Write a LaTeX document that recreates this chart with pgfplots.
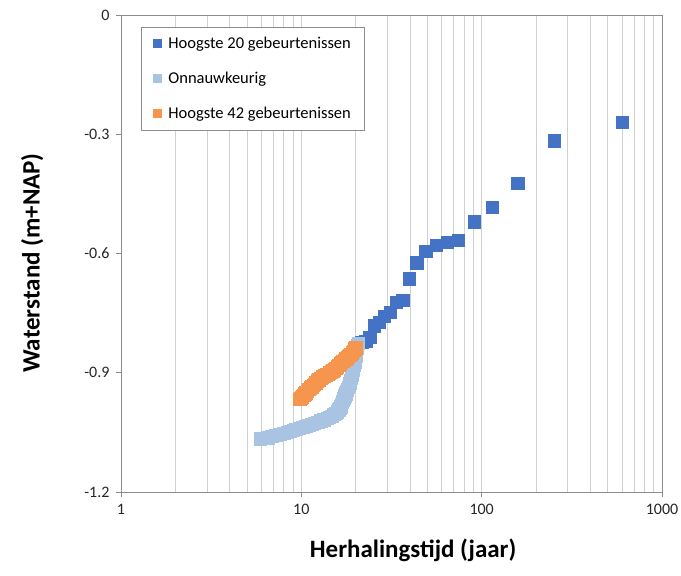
\documentclass[border=0pt]{standalone}
\usepackage{pgfplots}
\pgfplotsset{compat=1.18}
\usepackage{fontspec}
\setmainfont{Carlito}
\definecolor{cblue}{HTML}{4472C4}
\definecolor{clight}{HTML}{A9C4E2}
\definecolor{corange}{HTML}{F5954E}
\definecolor{gridc}{HTML}{D0D0D0}
\definecolor{axc}{HTML}{8C8C8C}
\begin{document}
\begin{tikzpicture}
\path[use as bounding box] (0,0) rectangle (681pt,576pt);
\begin{axis}[
  at={(121pt,84pt)}, anchor=south west,
  scale only axis, width=541pt, height=477pt,
  xmode=log, xmin=1, xmax=1000, ymin=-1.2, ymax=0,
  log basis x=10,
  xtick={1,10,100,1000}, xticklabels={1,10,100,1000},
  minor xtick={2,3,4,5,6,7,8,9,20,30,40,50,60,70,80,90,200,300,400,500,600,700,800,900},
  ytick={-1.2,-0.9,-0.6,-0.3,0}, yticklabels={-1.2,-0.9,-0.6,-0.3,0},
  xmajorgrids, xminorgrids,
  major grid style={gridc, line width=0.8pt},
  minor grid style={gridc, line width=0.8pt},
  axis line style={axc, line width=0.8pt},
  tick style={axc, line width=0.8pt},
  tick align=outside, major tick length=5pt, minor tick length=0pt,
  xtick pos=bottom, ytick pos=left,
  /pgf/number format/assume math mode=true,
  tick label style={font=\fontsize{16}{19}\selectfont, text=black!85},
  xticklabel style={yshift=-4pt},
  yticklabel style={xshift=-3pt},
  xlabel={Herhalingstijd (jaar)},
  ylabel={Waterstand (m+NAP)},
  label style={font=\fontsize{25}{29}\selectfont\bfseries},
  xlabel style={at={(axis description cs:0.54,-0.1216)}, anchor=center},
  ylabel style={at={(axis description cs:-0.164,0.48)}, anchor=center},
  legend style={at={(axis description cs:0.037,0.9755)}, anchor=north west,
    draw=axc, line width=0.8pt, fill=white,
    font=\fontsize{16.5}{19}\selectfont, inner xsep=12pt, inner ysep=8pt,
    row sep=18pt, /tikz/every odd column/.append style={column sep=5pt}},
  legend cell align=left,
  legend image post style={mark size=4pt},
]
\addplot[only marks, mark=square*, mark size=6.2pt, mark options={fill=cblue, draw=cblue}]
coordinates {
(600,-0.269) (252,-0.316) (158.6,-0.423) (114.5,-0.484) (90.7,-0.520)
(73.9,-0.567) (64.3,-0.572) (56.1,-0.579) (48.9,-0.594) (43.7,-0.623)
(39.8,-0.663) (36.4,-0.717) (33.5,-0.722) (31.0,-0.748) (28.9,-0.757)
(27.1,-0.773) (25.4,-0.782) (24.0,-0.810) (22.7,-0.820) (21.6,-0.823)
};
\addlegendentry{Hoogste 20 gebeurtenissen}
\addplot[only marks, mark=square*, mark size=6.2pt, mark options={fill=clight, draw=clight}]
coordinates {
(5.9,-1.066) (6.2,-1.065) (6.5,-1.063) (6.85,-1.060) (7.2,-1.057) (7.6,-1.055)
(8.0,-1.052) (8.35,-1.049) (8.7,-1.047) (9.0,-1.045) (9.3,-1.042) (9.75,-1.040)
(10.2,-1.037) (10.6,-1.035) (11.0,-1.032) (11.4,-1.030) (11.75,-1.027) (12.3,-1.024)
(12.8,-1.021) (13.3,-1.018) (13.9,-1.015) (14.3,-1.012) (14.7,-1.009) (15.1,-1.005)
(15.5,-1.002) (15.8,-0.998) (16.1,-0.993) (16.3,-0.989) (16.5,-0.985) (16.7,-0.979)
(16.9,-0.973) (17.05,-0.968) (17.2,-0.964) (17.4,-0.958) (17.6,-0.953) (17.8,-0.948)
(18.0,-0.943) (18.2,-0.937) (18.4,-0.932) (18.55,-0.926) (18.7,-0.920) (18.85,-0.912)
(19.0,-0.905) (19.15,-0.899) (19.3,-0.893) (19.45,-0.886) (19.6,-0.880) (19.75,-0.872)
(19.9,-0.865) (20.0,-0.858) (20.1,-0.852) (20.2,-0.845) (20.3,-0.838) (20.45,-0.831)
(20.6,-0.825)
};
\addlegendentry{Onnauwkeurig}
\addplot[only marks, mark=square*, mark size=6.2pt, mark options={fill=corange, draw=corange}]
coordinates {
(9.7,-0.966) (9.85,-0.965) (10.0,-0.963) (10.15,-0.960) (10.3,-0.957) (10.45,-0.953)
(10.6,-0.950) (10.8,-0.946) (11.0,-0.942) (11.2,-0.938) (11.4,-0.935) (11.6,-0.932)
(11.8,-0.929) (12.0,-0.925) (12.25,-0.920) (12.5,-0.917) (12.8,-0.913) (13.1,-0.910)
(13.4,-0.907) (13.7,-0.905) (14.0,-0.903) (14.3,-0.900) (14.6,-0.897) (14.9,-0.895)
(15.2,-0.892) (15.5,-0.889) (15.8,-0.885) (16.1,-0.881) (16.4,-0.877) (16.7,-0.874)
(17.0,-0.871) (17.3,-0.868) (17.6,-0.865) (17.9,-0.862) (18.2,-0.859) (18.5,-0.856)
(18.8,-0.853) (19.1,-0.850) (19.4,-0.846) (19.6,-0.843) (19.8,-0.840) (20.0,-0.837)
};
\addlegendentry{Hoogste 42 gebeurtenissen}
\end{axis}
\end{tikzpicture}
\end{document}
